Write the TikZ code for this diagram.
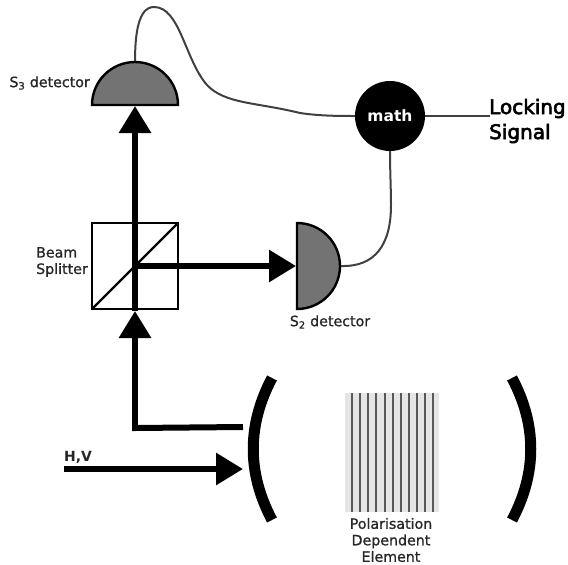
\documentclass[tikz,border=0pt]{standalone}
\usepackage{fontspec}
\setmainfont{DejaVu Sans}
\newfontfamily\lockfont[FakeBold=3]{DejaVu Sans}
\newfontfamily\labelfont[FakeBold=1]{DejaVu Sans}
\usetikzlibrary{arrows.meta}
\tikzset{
    beam/.style={line width=6pt,-{Triangle[length=27pt,width=31pt]}},
    plainbeam/.style={line width=6pt},
    wire/.style={line width=2pt,draw=black!75},
    detector/.style={line width=2.4pt,draw=black,fill=black!55},
    mirror/.style={line width=11pt},
    label/.style={font=\fontsize{14.2}{16.5}\selectfont\labelfont,inner sep=0pt,align=center,text=black!85},
}
\begin{document}
\begin{tikzpicture}[x=1pt,y=-1pt]
            \useasboundingbox (0,0) rectangle (568,565);
            \fill[black!10] (345,393) rectangle (439,512);
            \foreach \x in {0,...,10}{
                \draw[line width=2pt,black!65] (352+8.13*\x,393)--(352+8.13*\x,512);
            }
            \coordinate (s3top) at (135,62);
            \coordinate (s3face) at (135,106);
            \coordinate (s2right) at (341,266);
            \coordinate (s2face) at (296,266);
            \coordinate (splitter) at (135,266);
            \coordinate (cubefoot) at (135,311);
            \coordinate (outcorner) at (135,428);
            \coordinate (outend) at (243,427);
            \coordinate (inend) at (64,469);
            \coordinate (intip) at (243,469);
            \coordinate (lockend) at (490,116);
            \node[circle,fill=black,minimum size=70pt,inner sep=0pt,text=white,font=\fontsize{15.5}{17}\selectfont\bfseries] (math) at (390,116) {math};
            \draw[wire] (s3top) .. controls (135,35) and (138,7) .. (154,7)
                .. controls (180,7) and (185,60) .. (207,85)
                .. controls (225,104) and (255,102) .. (300,113)
                .. controls (320,116) and (340,116) .. (math.west);
            \draw[wire] (s2right) .. controls (375,267) and (391,245) .. (391,205)
                .. controls (391,190) and (390,170) .. (math.south);
            \draw[wire] (math.east)--(lockend);
            \draw[detector] (92,105) arc[start angle=180,end angle=360,radius=43] -- cycle;
            \draw[detector] (297,223) arc[start angle=-90,end angle=90,radius=43] -- cycle;
            \draw[line width=2.2pt] (92,223) rectangle (178,309);
            \draw[line width=2.2pt] (92,309)--(178,223);
            \draw[beam] (outcorner)--(cubefoot);
            \draw[beam] (cubefoot)--(s3face);
            \draw[beam] (splitter)--(s2face);
            \draw[plainbeam] (outend)--(outcorner)--(135,425);
            \draw[beam] (inend)--(intip);
            \draw[mirror] (272,378) .. controls (247,425) and (247,473) .. (272,520);
            \draw[mirror] (512,378) .. controls (537,425) and (537,473) .. (512,520);
            \node[label,anchor=east] (s3label) at (90,83) {S\textsubscript{3} detector};
            \node[label,anchor=east,align=left] (splitterlabel) at (88,262) {Beam\\Splitter};
            \node[label] (s2label) at (330,322) {S\textsubscript{2} detector};
            \node[label,anchor=west,font=\fontsize{14}{15}\selectfont\bfseries] (hvlabel) at (64,457) {H,V};
            \node[label] (elementlabel) at (391,540) {Polarisation\\Dependent\\Element};
            \node[label,anchor=west,align=left,text=black,font=\fontsize{20}{25}\selectfont\lockfont] (locklabel) at (489,121) {Locking\\Signal};
        \end{tikzpicture}
\end{document}
